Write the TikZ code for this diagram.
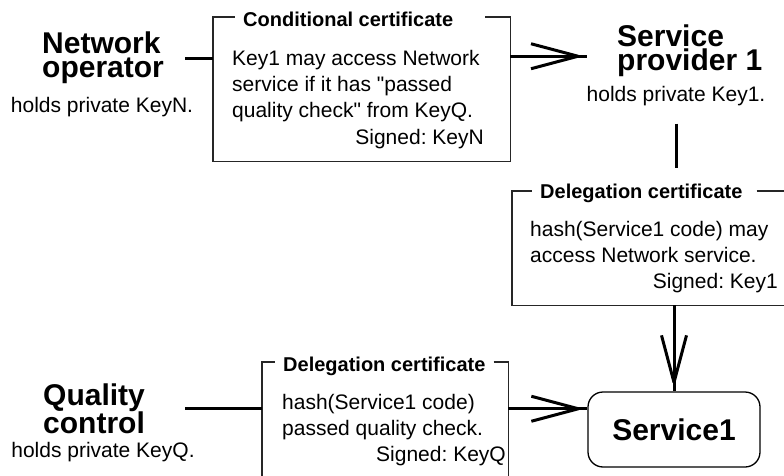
\documentclass[tikz,border=0pt]{standalone}
\usepackage{fontspec}
\setmainfont{Liberation Sans}
\usetikzlibrary{decorations.markings}
\frenchspacing
\newcommand\actorfont{\fontsize{30}{24}\selectfont\bfseries}
\newcommand\bodyfont{\fontsize{21}{26}\selectfont}
\newcommand\captionfont{\fontsize{20}{24}\selectfont\bfseries}
\begin{document}
\begin{tikzpicture}[x=1pt,y=-1pt,
  actor/.style={font=\actorfont, align=left, inner sep=0pt, anchor=base west},
  holds/.style={font=\bodyfont, inner sep=0pt, anchor=base},
  certframe/.style={draw=none, inner sep=0pt, anchor=north west},
  certtitle/.style={font=\captionfont, inner ysep=0pt, inner xsep=8pt, anchor=base west},
  certtext/.style={font=\bodyfont, align=left, inner sep=0pt, anchor=base west},
  signer/.style={font=\bodyfont, inner sep=0pt, anchor=base east},
  frame/.style={draw=black!85, line width=1.2pt},
  link/.style={line width=3pt},
  openhead/.style={postaction={decorate, decoration={markings,
      mark=at position 1 with {\draw[line width=3pt, line join=round]
        (-56pt,12.5pt) -- (-9pt,0pt) -- (-56pt,-12.5pt);}}}},
  service/.style={draw, line width=1.3pt, rounded corners=15pt,
    minimum width=172pt, minimum height=75pt, font=\actorfont}
]
\useasboundingbox (0,0) rectangle (784,476);
\fill[white] (0,0) rectangle (784,476);

% parties: with a text width the base is the first line, without it the last
\node[actor, text width=143pt] (netop) at (42,54) {Network\\operator};
\node[holds] (netopkey) at (102,113) {holds private KeyN.};
\node[actor] (sptitle) at (617,71) {Service\\provider 1};
\node[holds] (spkey) at (676,102) {holds private Key1.};
\node[actor, text width=142pt] (qc) at (43,405) {Quality\\control};
\node[holds] (qckey) at (103,457) {holds private KeyQ.};
\node[service] (svc) at (674,429.5) {Service1};

% conditional certificate
\node[certframe, minimum width=297pt, minimum height=144pt] (cond) at (213,17) {};
\node[certtitle] (condtitle) at (235,27) {Conditional certificate};
\draw[frame] ([xshift=24pt]condtitle.east |- cond.north) -- (cond.north east)
  -- (cond.south east) -- (cond.south west) -- (cond.north west)
  -- (condtitle.west |- cond.north);
\node[certtext] (condtext) at (232,118) {Key1 may access Network\\service if it has \textquotedbl passed\\quality check\textquotedbl{} from KeyQ.};
\node[signer] (condsign) at (484,144) {Signed: KeyN};

% delegation certificate signed by Key1
\node[certframe, minimum width=280pt, minimum height=114pt] (deleg) at (512,191) {};
\node[certtitle] (delegtitle) at (532,198) {Delegation certificate};
\draw[frame] ([xshift=6pt]delegtitle.east |- deleg.north) -- (deleg.north east)
  -- (deleg.south east) -- (deleg.south west) -- (deleg.north west)
  -- (delegtitle.west |- deleg.north);
\node[certtext] (delegtext) at (530,262) {hash(Service1 code) may\\access Network service.};
\node[signer] (delegsign) at (778,288) {Signed: Key1};

% delegation certificate signed by KeyQ
\node[certframe, minimum width=246pt, minimum height=130pt] (check) at (262,362) {};
\node[certtitle] (checktitle) at (275,371) {Delegation certificate};
\draw[frame] (checktitle.east |- check.north) -- (check.north east)
  -- (check.south east) -- (check.south west) -- (check.north west)
  -- (checktitle.west |- check.north);
\node[certtext] (checktext) at (282,435) {hash(Service1 code)\\passed quality check.};
\node[signer] (checksign) at (506,461) {Signed: KeyQ};

% connectors
\draw[link] (netop.east) -- (netop.east -| cond.west);
\draw[link, openhead] ([yshift=-5pt]cond.east |- sptitle.west) -- ([xshift=-30pt,yshift=-5pt]sptitle.west);
\draw[link, shorten <=17pt, shorten >=23pt] (spkey.south) -- (spkey.south |- deleg.north);
\draw[link, openhead] (svc.north |- deleg.south) -- (svc.north);
\draw[link] (qc.east) -- (qc.east -| check.west);
\draw[link, openhead] (qc.east -| check.east) -- (qc.east -| svc.west);
\end{tikzpicture}
\end{document}
